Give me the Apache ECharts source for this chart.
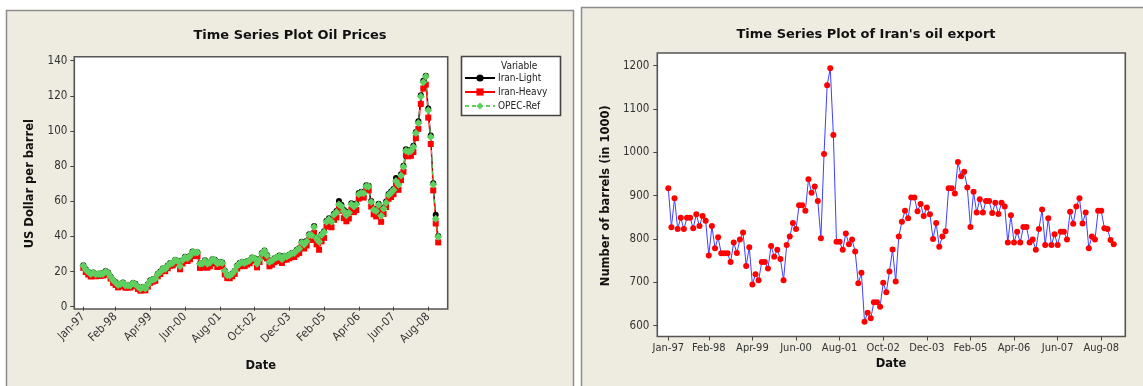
<!DOCTYPE html>
<html>
<head>
<meta charset="utf-8">
<script src="https://cdn.jsdelivr.net/npm/echarts@6/dist/echarts.min.js"></script>
<style>
  html, body { margin: 0; padding: 0; background: #ffffff; }
  #chart { width: 1143px; height: 386px; }
</style>
</head>
<body>
<div id="chart"></div>
<script>
// Monthly observations, Jan 1997 – Dec 2008
const monthNames = ['Jan','Feb','Mar','Apr','May','Jun','Jul','Aug','Sep','Oct','Nov','Dec'];
const dates = [];
for (let y = 1997; y <= 2008; y++) {
  for (const m of monthNames) dates.push(m + '-' + String(y).slice(2));
}

// Labelled ticks on both date axes
const tickLabels = ['Jan-97','Feb-98','Apr-99','Jun-00','Aug-01','Oct-02','Dec-03','Feb-05','Apr-06','Jun-07','Aug-08'];

// Oil prices, US dollar per barrel
const iranLight = [
  23.6, 21.3, 19.9, 18.7, 19.4, 18.6, 18.8, 18.9, 19.0, 20.3, 19.4, 17.2,
  15.1, 14.0, 12.6, 13.1, 13.8, 12.2, 12.3, 12.1, 13.5, 13.0, 11.4, 10.3,
  11.2, 10.6, 12.8, 15.0, 15.6, 16.1, 18.8, 20.0, 21.8, 21.7, 23.4, 24.8,
  25.0, 26.6, 26.2, 23.3, 26.5, 28.4, 27.8, 29.0, 31.4, 30.9, 31.0, 24.6,
  24.8, 26.4, 24.6, 25.3, 27.0, 26.7, 24.8, 25.5, 25.1, 20.6, 18.0, 17.9,
  18.9, 20.5, 23.4, 24.8, 25.5, 25.0, 25.8, 26.5, 28.0, 27.6, 24.7, 27.1,
  30.5, 32.0, 29.4, 25.6, 26.4, 27.6, 28.2, 29.1, 27.2, 28.9, 28.8, 29.6,
  30.5, 30.8, 32.4, 33.3, 37.0, 35.6, 37.5, 41.2, 41.0, 45.9, 39.3, 37.3,
  41.3, 43.0, 48.9, 50.4, 48.9, 52.9, 54.4, 60.2, 58.0, 55.0, 52.5, 54.0,
  58.9, 57.6, 58.8, 64.7, 65.4, 65.1, 69.1, 68.9, 60.1, 55.8, 55.0, 58.6,
  52.3, 56.4, 59.9, 64.2, 65.5, 67.0, 73.3, 70.0, 75.4, 80.2, 89.6, 88.9,
  89.2, 91.6, 99.4, 105.5, 120.3, 128.6, 131.5, 112.8, 97.4, 70.3, 52.4, 40.3
];
const iranHeavy = [
  22.1, 19.7, 18.3, 17.2, 18.1, 17.3, 17.5, 17.6, 17.8, 19.0, 18.2, 16.0,
  13.6, 12.4, 11.0, 11.6, 12.3, 10.8, 11.0, 10.9, 12.2, 11.7, 10.1, 9.1,
  9.8, 9.3, 11.4, 13.6, 14.3, 14.7, 17.3, 18.6, 20.3, 20.2, 21.9, 23.3,
  23.5, 24.9, 24.6, 21.3, 24.6, 26.5, 26.0, 27.0, 29.3, 28.8, 28.8, 22.1,
  22.3, 23.8, 22.2, 23.0, 24.8, 24.6, 22.6, 23.3, 22.9, 18.4, 16.3, 16.2,
  17.3, 18.7, 21.7, 23.0, 23.7, 23.1, 24.0, 24.7, 26.2, 25.9, 22.4, 25.4,
  28.4, 30.0, 27.5, 23.0, 23.9, 25.3, 26.0, 26.9, 24.9, 26.8, 26.8, 27.6,
  28.2, 28.3, 29.8, 30.6, 34.4, 33.1, 34.8, 38.2, 38.0, 42.0, 35.5, 32.4,
  37.2, 39.2, 45.6, 46.8, 45.2, 49.4, 50.8, 55.6, 54.6, 50.4, 48.6, 50.2,
  55.3, 53.8, 55.0, 61.5, 62.4, 62.1, 66.4, 66.2, 57.0, 52.6, 51.4, 55.4,
  48.3, 52.8, 56.7, 61.4, 62.4, 64.0, 69.2, 66.5, 72.0, 76.8, 86.2, 85.6,
  85.9, 88.0, 95.9, 101.2, 115.4, 124.2, 126.4, 107.6, 92.6, 66.2, 47.4, 36.6
];
const opecRef = [
  23.3, 21.0, 19.8, 18.6, 19.3, 18.5, 18.6, 18.6, 18.8, 20.1, 19.2, 17.0,
  15.0, 13.8, 12.4, 12.9, 13.6, 12.0, 12.1, 12.0, 13.3, 12.8, 11.3, 10.2,
  11.0, 10.4, 12.6, 14.8, 15.4, 15.9, 18.6, 19.8, 21.6, 21.5, 23.2, 24.6,
  24.8, 26.5, 26.0, 23.0, 26.4, 28.2, 27.6, 28.8, 31.2, 30.8, 30.9, 24.5,
  24.6, 26.2, 24.4, 25.0, 26.8, 26.5, 24.6, 25.2, 24.8, 20.4, 17.9, 17.8,
  18.8, 20.4, 23.2, 24.6, 25.3, 24.8, 25.6, 26.3, 27.8, 27.4, 24.5, 26.9,
  30.3, 31.8, 29.2, 25.4, 26.2, 27.4, 28.0, 28.9, 27.0, 28.7, 28.6, 29.4,
  30.3, 30.6, 32.1, 33.0, 36.6, 35.4, 37.2, 40.8, 40.6, 45.4, 38.9, 37.0,
  40.8, 42.5, 48.4, 49.8, 48.4, 52.3, 53.8, 58.2, 57.2, 54.3, 52.0, 53.4,
  58.3, 57.0, 58.2, 64.0, 64.8, 64.5, 68.6, 68.4, 59.6, 55.2, 54.4, 58.0,
  51.8, 55.8, 59.2, 63.6, 64.8, 66.4, 71.6, 69.4, 74.6, 79.6, 88.8, 88.2,
  88.6, 90.9, 98.8, 104.6, 119.6, 127.8, 131.0, 111.8, 96.6, 69.6, 50.0, 39.8
];

// Iran's oil export, barrels (in 1000)
const exportBarrels = [
  917, 827, 894, 823, 849, 823, 849, 849, 825, 857, 830, 853,
  842, 762, 830, 779, 804, 767, 767, 767, 747, 792, 768, 799,
  815, 738, 781, 695, 719, 705, 747, 747, 732, 784, 759, 775,
  754, 705, 786, 806, 837, 823, 878, 878, 865, 938, 907, 921,
  888, 802, 996, 1155, 1194, 1040, 794, 794, 775, 813, 788, 799,
  771, 698, 722, 609, 630, 617, 654, 654, 644, 699, 677, 725,
  776, 702, 806, 840, 865, 848, 896, 896, 864, 881, 853, 873,
  857, 800, 837, 782, 806, 818, 917, 917, 905, 978, 945, 955,
  919, 828, 909, 861, 892, 861, 888, 888, 860, 884, 858, 884,
  875, 792, 855, 792, 817, 792, 828, 828, 792, 799, 775, 823,
  868, 786, 848, 786, 811, 786, 817, 817, 799, 863, 835, 875,
  894, 836, 861, 779, 806, 799, 865, 865, 825, 823, 798, 788
];

const FONT = "'DejaVu Sans Condensed', 'DejaVu Sans', sans-serif";
const FONT_WIDE = "'DejaVu Sans', sans-serif";
const PANEL = '#EEEBE1';
const isTick = (i, v) => tickLabels.indexOf(v) !== -1;
const axisTitle = { fontFamily: FONT_WIDE, fontSize: 11.5, fontWeight: 'bold', color: '#111' };

const chart = echarts.init(document.getElementById('chart'), null, { renderer: 'canvas' });

const option = {
  animation: false,
  backgroundColor: '#ffffff',
  graphic: [
    // panel backgrounds
    { type: 'rect', z: -20, shape: { x: 6.5, y: 10.5, width: 567, height: 400 },
      style: { fill: PANEL, stroke: '#8c8c8c', lineWidth: 1.5 } },
    { type: 'rect', z: -20, shape: { x: 581.5, y: 7.5, width: 580, height: 400 },
      style: { fill: PANEL, stroke: '#8c8c8c', lineWidth: 1.5 } },
    // plot areas
    { type: 'rect', z: -10, shape: { x: 74.3, y: 56.7, width: 373.4, height: 252.3 },
      style: { fill: '#ffffff', stroke: '#555555', lineWidth: 1.6 } },
    { type: 'rect', z: -10, shape: { x: 657.3, y: 53, width: 468, height: 283.5 },
      style: { fill: '#ffffff', stroke: '#555555', lineWidth: 1.6 } },
    // titles
    { type: 'text', x: 290, y: 36, style: { text: 'Time Series Plot Oil Prices',
      font: 'bold 13px ' + FONT_WIDE, fill: '#111', align: 'center', verticalAlign: 'middle' } },
    { type: 'text', x: 866, y: 35, style: { text: "Time Series Plot of Iran's oil export",
      font: 'bold 13px ' + FONT_WIDE, fill: '#111', align: 'center', verticalAlign: 'middle' } },
    // legend box
    { type: 'rect', z: 1, shape: { x: 461.5, y: 56.5, width: 99, height: 59 },
      style: { fill: '#ffffff', stroke: '#444444', lineWidth: 1.6 } },
    { type: 'text', z: 2, x: 501, y: 66, style: { text: 'Variable',
      font: '10px ' + FONT, fill: '#222', align: 'left', verticalAlign: 'middle' } }
  ],
  legend: {
    orient: 'vertical',
    left: 464,
    top: 73,
    itemWidth: 30,
    itemHeight: 9,
    itemGap: 4,
    padding: 0,
    textStyle: { fontFamily: FONT, fontSize: 10, color: '#222', padding: [0, 0, 0, -2] },
    data: ['Iran-Light', 'Iran-Heavy', 'OPEC-Ref']
  },
  grid: [
    { left: 83.3, right: 1143 - 438.2, top: 60.7, bottom: 386 - 306.7 },
    { left: 668.3, right: 1143 - 1113.7, top: 65.7, bottom: 386 - 325.7 }
  ],
  xAxis: [
    {
      type: 'category', gridIndex: 0, data: dates, boundaryGap: false, offset: 2.3,
      axisLine: { show: false },
      axisTick: { show: true, interval: isTick, length: 4, lineStyle: { color: '#444' } },
      axisLabel: { interval: isTick, rotate: 45, margin: 6, fontFamily: FONT, fontSize: 11.5, color: '#333' },
      splitLine: { show: false },
      name: 'Date', nameLocation: 'middle', nameGap: 51,
      nameTextStyle: axisTitle
    },
    {
      type: 'category', gridIndex: 1, data: dates, boundaryGap: false, offset: 10.8,
      axisLine: { show: false },
      axisTick: { show: true, interval: isTick, length: 4, lineStyle: { color: '#444' } },
      axisLabel: { interval: isTick, margin: 6, fontFamily: FONT, fontSize: 11, color: '#333' },
      splitLine: { show: false },
      name: 'Date', nameLocation: 'middle', nameGap: 21,
      nameTextStyle: axisTitle
    }
  ],
  yAxis: [
    {
      type: 'value', gridIndex: 0, min: 0, max: 140, interval: 20, offset: 9,
      axisLine: { show: false },
      axisTick: { show: true, length: 4, lineStyle: { color: '#444' } },
      axisLabel: { margin: 7, fontFamily: FONT, fontSize: 11.5, color: '#333' },
      splitLine: { show: false },
      name: 'US Dollar per barrel', nameLocation: 'middle', nameGap: 38,
      nameTextStyle: axisTitle
    },
    {
      type: 'value', gridIndex: 1, min: 600, max: 1200, interval: 100, offset: 11,
      axisLine: { show: false },
      axisTick: { show: true, length: 4, lineStyle: { color: '#444' } },
      axisLabel: { margin: 8, fontFamily: FONT, fontSize: 11.5, color: '#333',
        formatter: (v) => String(v) },
      splitLine: { show: false },
      name: 'Number of barrels (in 1000)', nameLocation: 'middle', nameGap: 45,
      nameTextStyle: axisTitle
    }
  ],
  series: [
    {
      name: 'Iran-Light', type: 'line', xAxisIndex: 0, yAxisIndex: 0, data: iranLight,
      showAllSymbol: true, symbol: 'circle', symbolSize: 6,
      lineStyle: { color: '#000000', width: 1 }, itemStyle: { color: '#000000' }
    },
    {
      name: 'Iran-Heavy', type: 'line', xAxisIndex: 0, yAxisIndex: 0, data: iranHeavy,
      showAllSymbol: true, symbol: 'rect', symbolSize: 6,
      lineStyle: { color: '#ff0000', width: 1 }, itemStyle: { color: '#ff0000' }
    },
    {
      name: 'OPEC-Ref', type: 'line', xAxisIndex: 0, yAxisIndex: 0, data: opecRef,
      showAllSymbol: true, symbol: 'diamond', symbolSize: 8,
      lineStyle: { color: '#5fcf5f', width: 1, type: [4, 3] }, itemStyle: { color: '#5fcf5f' }
    },
    {
      name: 'Export', type: 'line', xAxisIndex: 1, yAxisIndex: 1, data: exportBarrels,
      showAllSymbol: true, symbol: 'circle', symbolSize: 6,
      lineStyle: { color: '#4040ff', width: 1 }, itemStyle: { color: '#ff0000' }
    }
  ]
};

chart.setOption(option);
</script>
</body>
</html>
